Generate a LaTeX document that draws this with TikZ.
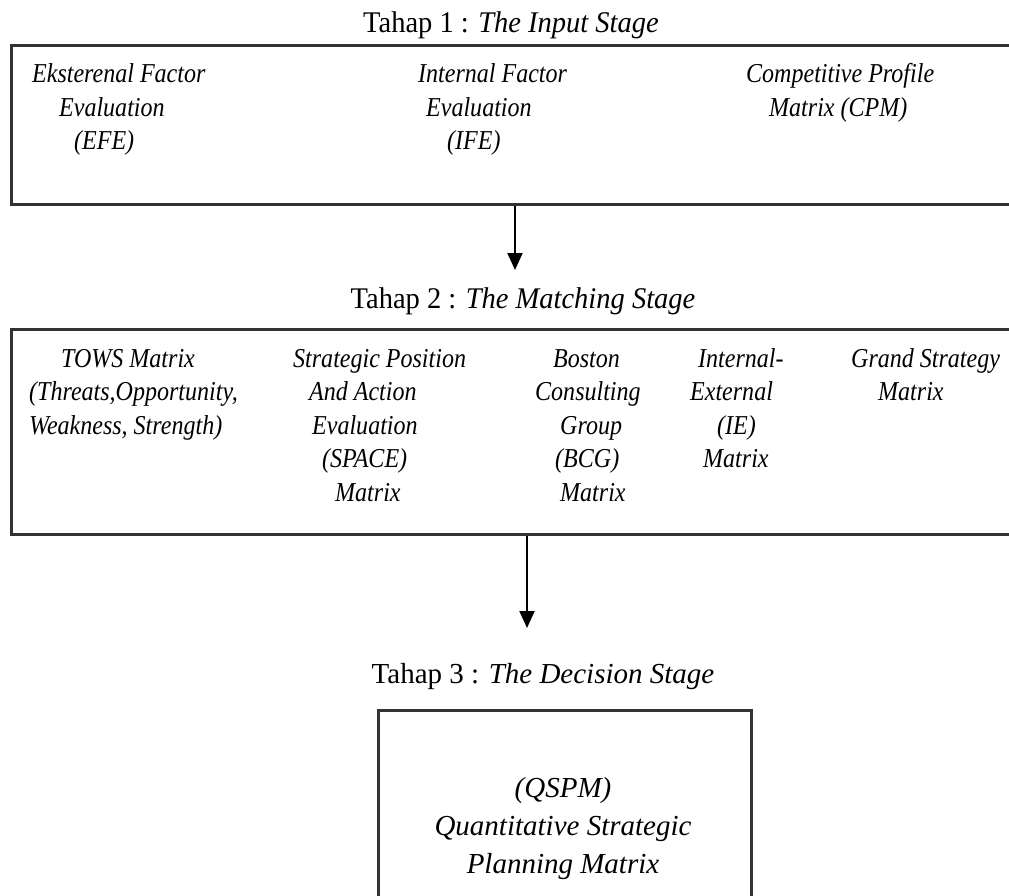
\documentclass[tikz,border=0pt]{standalone}
\usepackage{fontspec}
\setmainfont{Liberation Serif}
\newfontfamily\boxfnt[FakeStretch=0.88]{Liberation Serif}
\newfontfamily\ttlfnt[FakeStretch=0.95]{Liberation Serif}
\usetikzlibrary{arrows.meta}
\tikzset{
  frame/.style={draw=black!80, line width=2.6pt, inner sep=0pt, anchor=north west},
  item/.style={anchor=base west, inner sep=0pt, align=left, font=\boxfnt\fontsize{27.3}{33.5}\selectfont\itshape},
  ttl/.style={anchor=base, inner sep=0pt, font=\ttlfnt\fontsize{30}{36}\selectfont},
  arr/.style={line width=2pt, draw=black, -{Triangle[length=17pt,width=15pt]}},
}
\begin{document}
\begin{tikzpicture}[x=1pt,y=-1pt]
\useasboundingbox (0,0) rectangle (1009,896);
\clip (0,0) rectangle (1009,896);
\fill[white] (0,0) rectangle (1009,896);

% Stage 1 (item nodes are placed at the baseline of their last line)
\node[ttl] (t1) at (511,33) {Tahap 1 : \textit{The Input Stage}};
\node[frame, minimum width=1040pt, minimum height=159pt] (box1) at (10,44) {};
\node[item] (efe) at (32,150) {Eksterenal Factor\\\hspace*{27pt}Evaluation\\\hspace*{42pt}(EFE)};
\node[item] (ife) at (418,150) {Internal Factor\\\hspace*{8pt}Evaluation\\\hspace*{29pt}(IFE)};
\node[item] (cpm) at (746,116.5) {Competitive Profile\\\hspace*{23pt}Matrix (CPM)};

\coordinate (a1) at (515,270);
\draw[arr] (box1.south -| a1) -- (a1);

% Stage 2
\node[ttl] (t2) at (523,308) {Tahap 2 : \textit{The Matching Stage}};
\node[frame, minimum width=1040pt, minimum height=205pt] (box2) at (10,328) {};
\node[item] (tows) at (29,434) {\hspace*{32pt}TOWS Matrix\\(Threats,Opportunity,\\Weakness, Strength)};
\node[item] (space) at (293,501) {Strategic Position\\\hspace*{16pt}And Action\\\hspace*{19pt}Evaluation\\\hspace*{29pt}(SPACE)\\\hspace*{42pt}Matrix};
\node[item] (bcg) at (535,501) {\hspace*{18pt}Boston\\Consulting\\\hspace*{25pt}Group\\\hspace*{20pt}(BCG)\\\hspace*{25pt}Matrix};
\node[item] (ie) at (690,467.5) {\hspace*{8pt}Internal-\\External\\\hspace*{27pt}(IE)\\\hspace*{13pt}Matrix};
\node[item] (gsm) at (851,400.5) {Grand Strategy\\\hspace*{27pt}Matrix};

\coordinate (a2) at (527,628);
\draw[arr] (box2.south -| a2) -- (a2);

% Stage 3
\node[anchor=base, inner sep=0pt, font=\fontsize{29}{35}\selectfont] (t3) at (543,683) {Tahap 3 : \textit{The Decision Stage}};
\node[frame, minimum width=373pt, minimum height=230pt] (box3) at (377,709) {};
\node[anchor=base, inner sep=0pt, align=center, font=\fontsize{29}{38}\selectfont\itshape] (qspm) at (563,873) {(QSPM)\\Quantitative Strategic\\Planning Matrix};
\end{tikzpicture}
\end{document}
